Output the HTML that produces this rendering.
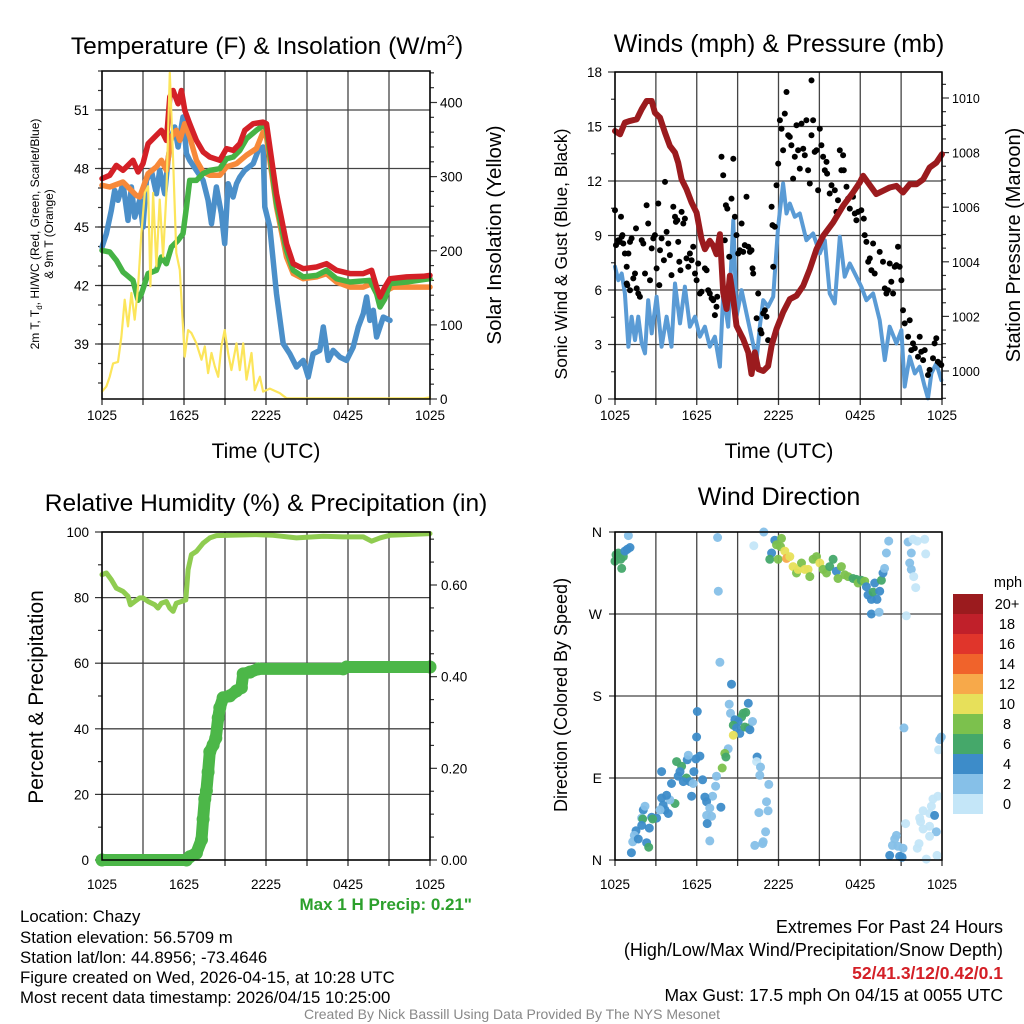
<!DOCTYPE html>
<html><head><meta charset="utf-8"><style>
html,body{margin:0;padding:0;background:#fff;}
svg{display:block;font-family:"Liberation Sans",sans-serif;}
</style></head><body>
<svg id="fig" width="1024" height="1024" viewBox="0 0 1024 1024" xmlns="http://www.w3.org/2000/svg">
<rect width="1024" height="1024" fill="#fff"/>
<g id="p1"></g>
<g id="p2"></g>
<g id="p3"></g>
<g id="p4"></g>
<g id="txt">
<text x="267" y="54" font-size="24.5" text-anchor="middle">Temperature (F) &amp; Insolation (W/m<tspan dy="-9" font-size="15">2</tspan><tspan dy="9">)</tspan></text>
<text x="779" y="52" font-size="25" text-anchor="middle">Winds (mph) &amp; Pressure (mb)</text>
<text x="266" y="511" font-size="24.5" text-anchor="middle">Relative Humidity (%) &amp; Precipitation (in)</text>
<text x="779" y="505" font-size="25" text-anchor="middle">Wind Direction</text>
<text x="266" y="458" font-size="21" text-anchor="middle">Time (UTC)</text>
<text x="779" y="458" font-size="21" text-anchor="middle">Time (UTC)</text>
<text transform="translate(39,234) rotate(-90)" font-size="12" text-anchor="middle">2m T, T<tspan dy="3" font-size="8">d</tspan><tspan dy="-3">, HI/WC (Red, Green, Scarlet/Blue)</tspan></text>
<text transform="translate(53,234) rotate(-90)" font-size="12" text-anchor="middle">&amp; 9m T (Orange)</text>
<text transform="translate(501,235) rotate(-90)" font-size="20.5" text-anchor="middle">Solar Insolation (Yellow)</text>
<text transform="translate(567,254) rotate(-90)" font-size="17.5" text-anchor="middle">Sonic Wind &amp; Gust (Blue, Black)</text>
<text transform="translate(1020,245) rotate(-90)" font-size="20" text-anchor="middle">Station Pressure (Maroon)</text>
<text transform="translate(43,697) rotate(-90)" font-size="21" text-anchor="middle">Percent &amp; Precipitation</text>
<text transform="translate(567,695) rotate(-90)" font-size="18" text-anchor="middle">Direction (Colored By Speed)</text>
<text x="472" y="910" font-size="17" font-weight="bold" fill="#2ca02c" text-anchor="end">Max 1 H Precip: 0.21"</text>
<text x="20" y="922" font-size="16.8">Location: Chazy</text>
<text x="20" y="943" font-size="16.8">Station elevation: 56.5709 m</text>
<text x="20" y="963" font-size="16.8">Station lat/lon: 44.8956; -73.4646</text>
<text x="20" y="983" font-size="16.8">Figure created on Wed, 2026-04-15, at 10:28 UTC</text>
<text x="20" y="1003" font-size="16.8">Most recent data timestamp: 2026/04/15 10:25:00</text>
<text x="1003" y="933" font-size="18" text-anchor="end">Extremes For Past 24 Hours</text>
<text x="1003" y="956" font-size="18" text-anchor="end">(High/Low/Max Wind/Precipitation/Snow Depth)</text>
<text x="1003" y="979" font-size="17.5" font-weight="bold" fill="#d42027" text-anchor="end">52/41.3/12/0.42/0.1</text>
<text x="1003" y="1001" font-size="17.5" text-anchor="end">Max Gust: 17.5 mph On 04/15 at 0055 UTC</text>
<text x="512" y="1019" font-size="14" fill="#888" text-anchor="middle">Created By Nick Bassill Using Data Provided By The NYS Mesonet</text>
</g>
</svg>
<script>
// ---------- data ----------
const timeTicks = ["1025","1625","2225","0425","1025"];
const redT = [[0,47.48],[0.56,47.65],[1.05,48.16],[1.54,47.91],[2.27,48.42],[2.64,47.82],[3.0,48.25],[3.37,49.27],[3.98,49.7],[4.35,49.96],[4.71,49.44],[4.96,51.67],[5.2,52.0],[5.57,51.32],[5.81,52.0],[6.06,50.98],[6.42,50.3],[6.91,49.44],[7.4,48.85],[7.89,48.59],[8.62,48.42],[9.11,49.02],[9.6,48.93],[10.08,49.27],[10.45,49.96],[11.06,50.3],[11.79,50.38],[12.04,50.3],[12.77,46.71],[13.5,44.15],[13.99,43.12],[14.72,42.86],[15.7,42.95],[16.43,43.12],[17.16,42.78],[18.14,42.61],[19.12,42.61],[19.73,42.78],[20.09,41.92],[20.34,41.41],[20.7,41.92],[21.07,42.35],[22.29,42.44],[23.51,42.47],[24,42.52]];
const orangeT = [[0,47.14],[0.56,47.05],[1.54,47.31],[2.51,46.62],[2.76,46.54],[3.37,47.74],[3.98,48.08],[4.35,48.42],[4.71,47.91],[5.08,49.62],[5.44,49.96],[5.69,49.44],[6.05,50.3],[6.42,49.62],[6.91,48.42],[7.4,47.82],[7.89,47.65],[8.62,47.65],[9.11,48.08],[9.84,48.25],[10.57,48.68],[11.3,49.02],[11.79,49.87],[12.04,49.62],[12.77,46.03],[13.5,43.46],[13.99,42.61],[14.72,42.35],[15.7,42.44],[16.43,42.61],[17.16,42.18],[18.14,41.92],[19.12,41.92],[19.73,42.09],[20.09,41.58],[20.34,41.32],[20.83,41.75],[21.31,41.92],[22.29,41.92],[24,41.92]];
const greenT = [[0,43.8],[0.56,43.72],[1.05,43.29],[1.54,42.69],[2.27,42.26],[2.64,41.24],[2.88,41.58],[3.37,42.61],[3.98,42.78],[4.35,43.46],[4.71,43.12],[5.08,43.97],[5.57,44.32],[5.93,44.66],[6.18,46.03],[6.42,47.39],[6.91,47.39],[7.4,47.74],[7.89,47.91],[8.62,47.99],[9.11,48.5],[9.6,48.59],[10.08,48.93],[10.57,49.53],[11.3,49.96],[11.79,50.21],[12.04,50.04],[12.77,46.2],[13.5,43.8],[13.99,42.78],[14.72,42.44],[15.7,42.52],[16.43,42.78],[17.16,42.35],[18.14,42.18],[19.6,42.26],[20.09,41.58],[20.34,40.9],[20.7,41.32],[21.07,42.09],[22.29,42.18],[24,42.35]];
const blueT = [[0,43.97],[0.32,44.66],[0.68,45.85],[0.93,46.88],[1.17,46.37],[1.54,47.22],[1.9,45.34],[2.15,47.05],[2.39,45.51],[2.76,46.37],[3.0,45.0],[3.25,47.39],[3.61,47.91],[3.98,46.71],[4.22,47.91],[4.59,46.71],[4.83,48.42],[5.08,49.62],[5.32,50.13],[5.57,49.1],[5.93,50.64],[6.18,48.76],[6.42,48.42],[6.91,47.91],[7.4,47.39],[7.76,46.37],[8.01,45.17],[8.37,47.05],[8.74,45.68],[8.98,44.15],[9.23,47.22],[9.59,46.54],[9.84,47.22],[10.08,47.56],[10.45,47.91],[11.06,48.25],[11.43,48.93],[11.79,49.1],[11.91,46.03],[12.28,45.0],[12.77,41.58],[13.26,39.02],[13.74,38.5],[14.23,37.82],[14.72,38.16],[15.09,37.31],[15.45,38.5],[15.94,38.67],[16.19,39.87],[16.55,38.16],[16.92,38.67],[17.41,38.33],[17.9,38.16],[18.38,38.84],[18.75,39.87],[19.12,40.56],[19.36,41.41],[19.6,40.21],[19.85,40.73],[20.09,39.36],[20.58,40.38],[21.07,40.21]];
const solar = [[0,10],[0.32,17],[0.56,30],[0.81,48],[1.17,50],[1.42,84],[1.66,134],[1.9,98],[2.15,143],[2.39,107],[2.64,152],[2.88,224],[3.13,278],[3.37,287],[3.54,152],[3.74,278],[3.98,179],[4.22,269],[4.47,192],[4.71,278],[4.96,440],[5.2,323],[5.44,197],[5.69,174],[5.93,98],[6.05,57],[6.3,93],[6.54,89],[6.91,75],[7.28,53],[7.52,71],[7.76,35],[8.01,62],[8.25,44],[8.5,30],[8.74,71],[8.98,93],[9.23,62],[9.47,39],[9.84,75],[10.08,39],[10.33,75],[10.57,26],[10.94,62],[11.18,12],[11.55,30],[11.79,10],[12.28,14],[13.01,8],[13.5,1],[23.51,1],[24,2]];
const pressure = [[0,1008.79],[0.37,1008.67],[0.73,1009.1],[1.1,1009.16],[1.59,1009.22],[1.96,1009.59],[2.32,1009.89],[2.69,1009.89],[2.93,1009.46],[3.3,1009.28],[3.67,1008.73],[4.03,1008.24],[4.4,1008.0],[4.64,1007.63],[4.89,1007.02],[5.25,1006.66],[5.62,1006.17],[5.99,1005.8],[6.35,1004.83],[6.6,1004.46],[6.96,1004.77],[7.21,1004.59],[7.45,1004.28],[7.7,1005.01],[7.94,1002.88],[8.19,1002.27],[8.43,1003.49],[8.68,1002.63],[8.92,1001.66],[9.41,1001.17],[9.78,1000.68],[10.02,999.89],[10.26,1000.68],[10.51,1000.07],[10.88,1000.0],[11.24,1000.18],[11.49,1000.93],[11.85,1001.54],[12.34,1002.15],[12.83,1002.63],[13.32,1002.76],[13.81,1003.12],[14.3,1003.73],[14.79,1004.46],[15.27,1004.95],[16.01,1005.44],[16.74,1006.05],[17.47,1006.54],[17.96,1006.9],[18.21,1007.15],[18.57,1006.9],[19.18,1006.48],[19.67,1006.6],[20.16,1006.72],[20.65,1006.78],[21.14,1006.54],[21.63,1006.84],[22.12,1006.84],[22.61,1007.02],[23.09,1007.45],[23.58,1007.63],[24,1007.94]];
const windSpd = [[0,7.28],[0.24,6.54],[0.49,6.91],[0.73,5.81],[0.98,2.88],[1.22,4.53],[1.47,3.24],[1.71,4.53],[1.96,3.06],[2.2,2.51],[2.44,5.44],[2.69,3.61],[3.05,5.63],[3.42,2.88],[3.79,4.53],[4.15,2.88],[4.4,6.36],[4.77,4.16],[5.13,6.18],[5.5,3.98],[5.87,4.53],[6.23,3.43],[6.6,3.98],[6.96,2.88],[7.33,3.43],[7.7,1.78],[7.94,5.81],[8.31,3.98],[8.68,9.84],[8.92,4.53],[9.29,5.99],[9.65,4.71],[10.02,3.43],[10.39,2.14],[10.63,3.98],[10.88,5.44],[11.24,5.08],[11.61,5.63],[11.97,9.48],[12.34,11.86],[12.59,10.21],[12.83,10.76],[13.2,10.03],[13.56,10.21],[14.05,8.74],[14.54,9.11],[15.03,8.01],[15.4,8.74],[15.76,5.81],[16.13,5.26],[16.5,8.93],[16.86,6.73],[17.23,7.46],[17.72,6.73],[18.08,6.18],[18.45,5.44],[18.94,5.81],[19.43,4.34],[19.8,2.14],[20.16,3.98],[20.65,3.06],[21.02,3.79],[21.26,0.68],[21.63,2.33],[22.0,1.41],[22.36,1.78],[22.73,0.68],[22.97,0.04],[23.22,1.41],[23.58,1.96],[23.95,1.04]];
const gustH = [0,0.07,0.24,0.37,0.49,0.61,0.44,0.54,0.73,0.86,0.98,1.1,1.22,0.86,0.9,1.1,1.34,1.47,1.59,1.71,1.83,1.54,1.96,2.08,2.2,2.32,2.44,2.57,2.69,2.81,2.93,3.05,3.18,3.3,3.42,3.25,3.59,3.67,3.79,3.91,4.03,4.15,4.28,4.4,4.47,4.57,4.64,4.72,4.81,4.89,5.01,5.13,5.25,5.38,5.5,5.62,5.74,5.87,5.99,6.11,6.23,6.35,6.6,6.72,6.84,6.96,7.09,7.21,7.33,7.45,7.5,7.82,7.94,8.06,8.14,8.24,8.38,8.55,8.68,8.8,8.92,9.04,9.16,9.29,9.41,9.53,9.65,9.78,9.9,10.02,10.09,10.14,10.39,10.51,10.68,10.75,10.88,11.0,11.12,11.24,11.49,11.56,11.61,11.73,11.85,11.98,12.1,12.22,12.34,12.46,12.59,12.71,12.83,12.95,13.07,13.2,13.32,13.44,13.56,13.69,13.81,13.93,14.05,14.17,14.3,14.42,14.42,14.54,14.66,14.79,14.91,15.03,15.15,15.27,15.4,15.52,15.57,15.76,15.89,16.13,16.25,16.37,16.5,16.62,16.74,16.79,16.99,17.11,17.23,17.47,17.6,17.72,17.84,18.08,18.26,18.33,18.45,18.58,18.7,18.82,18.94,19.06,19.43,19.67,19.8,19.92,20.04,20.16,20.28,20.41,20.53,20.65,20.77,20.89,21.02,21.14,21.26,21.51,21.63,21.75,21.87,22.0,22.24,22.36,22.48,22.61,22.73,22.97,23.09,23.34,23.46,23.58,23.7,23.83,23.95];
const gustV = [10.39,8.47,8.74,8.65,8.93,8.56,10.03,9.02,8.01,7.28,8.01,8.65,8.84,6.36,6.27,5.99,6.64,6.91,6.09,5.81,5.63,9.39,8.74,8.56,6.91,10.67,9.66,6.54,8.29,8.84,9.02,7.19,10.76,8.19,8.84,6.27,7.64,11.95,9.2,8.56,7.92,6.82,10.58,10.03,9.75,9.84,8.65,7.55,7.09,10.3,9.66,9.93,7.74,7.28,8.01,7.64,8.38,6.91,6.54,7.46,5.81,5.9,7.19,7.09,5.99,5.81,5.54,5.44,4.62,5.08,5.63,13.33,12.32,8.74,10.67,10.48,7.83,11.03,13.23,10.03,9.02,8.01,8.19,9.66,8.1,8.47,11.13,8.38,8.1,8.19,7.19,6.91,4.44,5.81,3.79,3.61,4.71,4.89,4.53,3.24,10.58,9.57,7.28,9.48,11.77,12.96,15.34,14.88,13.69,15.71,16.9,14.52,14.43,13.97,12.13,13.33,15.07,13.69,12.68,15.16,13.78,13.42,15.34,12.59,11.86,17.54,14.52,15.34,13.6,13.69,11.49,14.88,13.97,13.33,12.59,13.05,12.41,11.31,11.77,11.49,10.3,10.94,13.69,12.59,13.42,12.59,11.68,11.03,10.48,11.13,10.21,9.84,10.3,10.39,9.93,9.02,8.65,7.55,7.74,7.09,8.56,6.91,8.1,7.55,6.09,5.81,5.99,7.46,6.45,5.81,7.28,7.37,8.38,7.28,6.54,4.89,4.16,3.43,4.34,2.69,3.06,2.79,2.33,3.43,2.6,2.14,2.69,1.32,1.6,2.24,3.06,3.34,2.05,1.96,1.87];
const rh = [[0,87.0],[0.32,87.5],[0.68,85.5],[1.05,82.9],[1.54,81.9],[1.9,80.4],[2.08,77.8],[2.39,78.8],[2.76,79.9],[3.0,79.9],[3.37,78.8],[3.86,77.8],[4.1,76.8],[4.35,78.3],[4.71,78.8],[4.96,76.8],[5.2,75.8],[5.44,78.3],[5.81,78.8],[6.13,79.3],[6.3,88.5],[6.54,93.1],[6.91,94.1],[7.4,96.6],[7.89,98.2],[8.37,98.9],[9.35,99.0],[11.3,99.2],[12.52,99.0],[14.23,98.2],[16.19,98.7],[17.65,98.5],[19.12,98.5],[19.73,97.2],[20.34,98.2],[21.07,99.0],[24,99.5]];
const precip = [[0,0],[6.18,0],[6.42,0.007],[6.91,0.015],[7.28,0.044],[7.4,0.089],[7.52,0.133],[7.64,0.151],[7.76,0.192],[7.89,0.236],[8.13,0.251],[8.33,0.266],[8.5,0.31],[8.62,0.332],[8.86,0.354],[9.35,0.358],[9.84,0.369],[10.2,0.376],[10.33,0.406],[10.82,0.41],[11.43,0.417],[17.65,0.417],[17.9,0.421],[24,0.421]];
// direction: [hour, degrees, speed mph]
const dirObs = [[0.0,328,6.5],[0.07,335,6.5],[0.24,337,6.5],[0.42,330,6.5],[0.61,333,6.5],[0.49,320,6.5],[0.73,339,4.5],[0.9,341,4.5],[1.1,343,4.5],[0.98,356,2.5],
[7.53,354,2.5],[7.58,295,2.5],[7.7,217,2.5],[10.19,345,0.5],[10.92,360,2.5],[11.73,351,4.5],[11.49,337,4.5],[11.36,330,6.5],[11.85,346,8.5],[11.97,330,8.5],[12.22,353,8.5],[12.15,344,8.5],[12.46,339,10.5],[12.59,331,12.5],[12.83,333,10.5],[13.07,322,10.5],[13.32,315,8.5],[13.44,319,10.5],[13.69,326,8.5],[13.93,319,10.5],[14.17,319,10.5],[14.3,311,8.5],[14.54,330,8.5],[14.79,333,8.5],[15.03,326,10.5],[15.27,319,8.5],[15.52,315,8.5],[15.76,322,6.5],[16.01,330,6.5],[16.25,317,4.5],[16.37,309,8.5],[16.62,322,8.5],[16.86,313,8.5],[17.11,311,8.5],[17.47,309,6.5],[17.72,308,6.5],[17.84,304,8.5],[18.08,307,6.5],[18.33,306,8.5],[18.45,300,4.5],[18.57,291,4.5],[18.82,286,4.5],[18.94,294,6.5],[19.06,304,4.5],[19.43,295,4.5],[19.23,286,4.5],[18.82,270,4.5],[19.38,272,2.5],[19.55,307,6.5],[19.67,315,4.5],[19.79,320,2.5],[19.92,337,2.5],[20.09,350,2.5],[21.51,349,2.5],[21.87,352,0.5],[22.19,350,0.5],[22.73,352,0.5],[21.75,337,2.5],[22.8,336,0.5],[21.63,326,2.5],[21.75,319,2.5],[21.92,311,0.5],[22.07,299,0.5],[21.38,268,0.5],
[6.04,163,4.5],[5.99,135,4.5],[8.55,193,4.5],[8.38,171,2.5],[8.48,161,2.5],[9.78,172,4.5],[9.6,162,6.5],[9.41,161,6.5],[9.29,157,6.5],[9.04,152,4.5],[8.8,154,4.5],[8.68,148,6.5],[8.92,145,4.5],[9.16,139,4.5],[8.68,137,10.5],[9.53,146,6.5],[9.78,145,6.5],[9.9,143,4.5],[10.09,152,2.5],[8.31,122,2.5],[8.06,117,8.5],[8.14,113,6.5],[7.87,101,8.5],[6.23,114,4.5],[5.94,111,4.5],[5.3,110,4.5],[5.38,115,2.5],[4.52,108,6.5],[4.89,103,6.5],[4.77,97,4.5],[3.42,97,4.5],[5.79,97,4.5],[4.64,92,4.5],[5.25,90,6.5],[5.5,86,4.5],[5.74,84,2.5],[5.01,86,4.5],[4.15,84,4.5],[6.43,88,4.5],[7.45,92,2.5],[7.38,81,2.5],[7.16,70,2.5],[6.6,69,4.5],[6.72,64,4.5],[7.77,58,4.5],[6.96,57,2.5],[6.72,49,2.5],[7.09,48,2.5],[6.77,40,4.5],[6.96,21,2.5],[5.62,70,4.5],[4.4,62,6.5],[4.03,66,2.5],[3.79,71,4.5],[3.42,68,4.5],[3.54,60,4.5],[3.67,55,4.5],[3.91,51,4.5],[3.3,55,2.5],[3.05,46,4.5],[2.69,47,4.5],[2.76,45,6.5],[2.08,55,4.5],[2.2,59,2.5],[1.96,46,2.5],[2.03,45,6.5],[1.96,38,4.5],[2.52,35,4.5],[1.54,32,4.5],[1.42,27,2.5],[1.3,20,2.5],[1.71,23,4.5],[2.32,19,4.5],[2.47,14,6.5],[1.2,8,4.5],
[10.43,113,4.5],[10.39,108,0.5],[10.68,102,2.5],[10.63,93,2.5],[11.29,83,2.5],[11.12,64,2.5],[11.24,54,2.5],[10.56,52,2.5],[11.05,31,2.5],[10.88,20,2.5],[10.26,16,2.5],[10.83,18,2.5],
[21.21,145,2.5],[23.95,135,2.5],[23.83,132,2.5],[23.75,121,0.5],[23.7,70,0.5],[23.34,67,0.5],[23.22,59,0.5],[22.61,54,0.5],[23.09,51,0.5],[23.46,49,4.5],[21.33,40,0.5],[22.43,42,0.5],[22.36,46,0.5],[23.09,37,0.5],[22.61,34,0.5],[23.58,31,2.5],[23.09,26,0.5],[22.31,18,0.5],[22.19,13,0.5],[20.65,27,2.5],[20.53,23,2.5],[20.36,16,2.5],[20.77,15,2.5],[21.14,13,2.5],[20.16,5,4.5],[20.89,4,4.5],[21.07,3,4.5],[22.85,1,0.5],[23.63,5,0.5]];
const speedLabels = ["20+","18","16","14","12","10","8","6","4","2","0"];
const speedColors = ["#9b1b1e","#c0202a","#e0352b","#f0632b","#f7a94a","#e7e05a","#7cc14d","#45a86a","#3d8cc9","#86c0e8","#c4e6f8"];

// ---------- helpers ----------
const NS="http://www.w3.org/2000/svg";
function mk(parent,tag,attrs){const e=document.createElementNS(NS,tag);for(const k in attrs)e.setAttribute(k,attrs[k]);parent.appendChild(e);return e;}
function scale(d0,d1,r0,r1){return v=>r0+(v-d0)/(d1-d0)*(r1-r0);}
function frame(g,L,R,T,B,name){
  for(let i=0;i<=8;i++){const x=L+(R-L)*i/8;
    const l=mk(g,'line',{x1:x,x2:x,y1:T,y2:B,stroke:'#444','stroke-width':1.3});
    
    
    mk(g,'line',{x1:x,x2:x,y1:B,y2:B+6,stroke:'#333','stroke-width':1.3});}
  timeTicks.forEach((s,i)=>{const x=L+(R-L)*i/4;
    const t=mk(g,'text',{x:x,y:889,'font-size':13.5,'text-anchor':'middle'});
    if(name==='temperature'||name==='winds') t.setAttribute('y',420);
    t.textContent=s;
    
    });
}
function border(g,L,R,T,B,name){
  const r=mk(g,'rect',{x:L,y:T,width:R-L,height:B-T,fill:'none',stroke:'#000','stroke-width':1.5});
  
  }
function hgrid(g,L,R,y,name){const l=mk(g,'line',{x1:L,x2:R,y1:y,y2:y,stroke:'#444','stroke-width':1.3});
  
  }
function ytick(g,x,y,len){mk(g,'line',{x1:x,x2:x+len,y1:y,y2:y,stroke:'#333','stroke-width':1.2});}
function ylabel(g,x,y,s,anchor,name,size){const t=mk(g,'text',{x:x,y:y+5,'font-size':size||13.5,'text-anchor':anchor});t.textContent=s;
  
  return t;}
function pathFrom(pts,fx,fy){return pts.map((p,i)=>(i?'L':'M')+fx(p[0]).toFixed(1)+' '+fy(p[1]).toFixed(1)).join(' ');}
function series(g,pts,fx,fy,color,w,name){const p=mk(g,'path',{d:pathFrom(pts,fx,fy),fill:'none',stroke:color,'stroke-width':w,'stroke-linejoin':'round','stroke-linecap':'round'});
  
  return p;}

// ---------- panel 1 ----------
(function(){
 const g=document.getElementById('p1');const L=102,R=430,T=71,B=399;
 const x=scale(0,24,L,R), y=scale(39,51,344,110), ys=scale(0,400,399,102.5);
 [39,42,45,48,51].forEach(v=>{hgrid(g,L,R,y(v),'temperature');ytick(g,L-7,y(v),7);ylabel(g,L-13,y(v),String(v),'end','temperature-y-tick-label');});
 for(let v=37;v<=53;v++){if(y(v)<T||y(v)>B)continue;ytick(g,L-4,y(v),4);}
 for(let v=0;v<=440;v+=20){ytick(g,R,ys(v),v%100?4:7);}
 [0,100,200,300,400].forEach(v=>ylabel(g,R+10,ys(v),String(v),'start','solar-y-tick-label'));
 frame(g,L,R,T,B,'temperature');
 series(g,blueT,x,y,'#4b8fc9',5.5,'dewpoint-line');
 series(g,orangeT,x,y,'#f7893a',5.5,'9m-temperature-line');
 series(g,greenT,x,y,'#45b345',5.5,'heat-index-line');
 series(g,redT,x,y,'#d42027',5.5,'2m-temperature-line');
 series(g,solar,x,ys,'#fce55b',2.2,'solar-insolation-line');
 border(g,L,R,T,B,'temperature');
})();

// ---------- panel 2 ----------
(function(){
 const g=document.getElementById('p2');const L=615,R=942,T=72,B=399;
 const x=scale(0,24,L,R), y=scale(0,18,B,T), yp=scale(1000,1008,371,152.6);
 [0,3,6,9,12,15,18].forEach(v=>{hgrid(g,L,R,y(v),'winds');ytick(g,L-7,y(v),7);ylabel(g,L-13,y(v),String(v),'end','wind-y-tick-label');});
 for(let v=1.5;v<18;v+=3)ytick(g,L-4,y(v),4);
 for(let v=999;v<=1010.5;v+=0.5){ytick(g,R,yp(v),(v%2===0)?7:4);}
 [1000,1002,1004,1006,1008,1010].forEach(v=>ylabel(g,R+10,yp(v),String(v),'start','pressure-y-tick-label',12.5));
 frame(g,L,R,T,B,'winds');
 series(g,windSpd,x,y,'#5a9bd5',4,'sonic-wind-line');
 gustH.forEach((h,i)=>{const c=mk(g,'circle',{cx:x(h).toFixed(1),cy:y(gustV[i]).toFixed(1),r:3,fill:'#000'});
   
   });
 series(g,pressure,x,yp,'#9b1b1e',6,'pressure-line');
 border(g,L,R,T,B,'winds');
})();

// ---------- panel 3 ----------
(function(){
 const g=document.getElementById('p3');const L=102,R=430,T=532,B=860;
 const x=scale(0,24,L,R), y=scale(0,100,B,T), yp=scale(0,0.6,B,585);
 [0,20,40,60,80,100].forEach(v=>{hgrid(g,L,R,y(v),'humidity');ytick(g,L-7,y(v),7);ylabel(g,L-13,y(v),String(v),'end','humidity-y-tick-label');});
 for(let v=10;v<100;v+=20)ytick(g,L-4,y(v),4);
 for(let v=0;v<=0.72;v+=0.05){ytick(g,R,yp(v),(Math.round(v*100)%20===0)?7:4);}
 ["0.00","0.20","0.40","0.60"].forEach(s=>ylabel(g,R+11,yp(parseFloat(s)),s,'start','precip-y-tick-label'));
 frame(g,L,R,T,B,'humidity');
 series(g,rh,x,y,'#8fcc50',5,'relative-humidity-line');
 series(g,precip,x,yp,'#4cb748',12,'precipitation-line');
 precip.forEach(p=>{const c=mk(g,'circle',{cx:x(p[0]).toFixed(1),cy:yp(p[1]).toFixed(1),r:6.5,fill:'#4cb748'});
   
   });
 border(g,L,R,T,B,'humidity');
})();

// ---------- panel 4 ----------
(function(){
 const g=document.getElementById('p4');const L=615,R=942,T=532,B=860;
 const x=scale(0,24,L,R), y=scale(0,360,B,T);
 [[0,'N'],[90,'E'],[180,'S'],[270,'W'],[360,'N']].forEach(d=>{hgrid(g,L,R,y(d[0]),'direction');ytick(g,L-6,y(d[0]),6);ylabel(g,L-13,y(d[0]),d[1],'end','direction-y-tick-label',14);});
 frame(g,L,R,T,B,'direction');
 function col(s){let idx=10-Math.min(10,Math.floor(s/2));return speedColors[idx];}
 dirObs.forEach(o=>{const c=mk(g,'circle',{cx:x(o[0]).toFixed(1),cy:y(o[1]).toFixed(1),r:4.5,fill:col(o[2]),'fill-opacity':0.95});
   
   });
 border(g,L,R,T,B,'direction');
 const cb=mk(g,'g',{});
 
 
 const t=mk(cb,'text',{x:1008,y:587,'font-size':14.5,'text-anchor':'middle'});t.textContent='mph';
 
 
 speedLabels.forEach((s,i)=>{const r=mk(cb,'rect',{x:953,y:594+i*20,width:30,height:20,fill:speedColors[i]});
   
   
   const l=mk(cb,'text',{x:1007,y:609+i*20,'font-size':14.5,'text-anchor':'middle'});l.textContent=s;
   
   });
})();
</script>
</body></html>
